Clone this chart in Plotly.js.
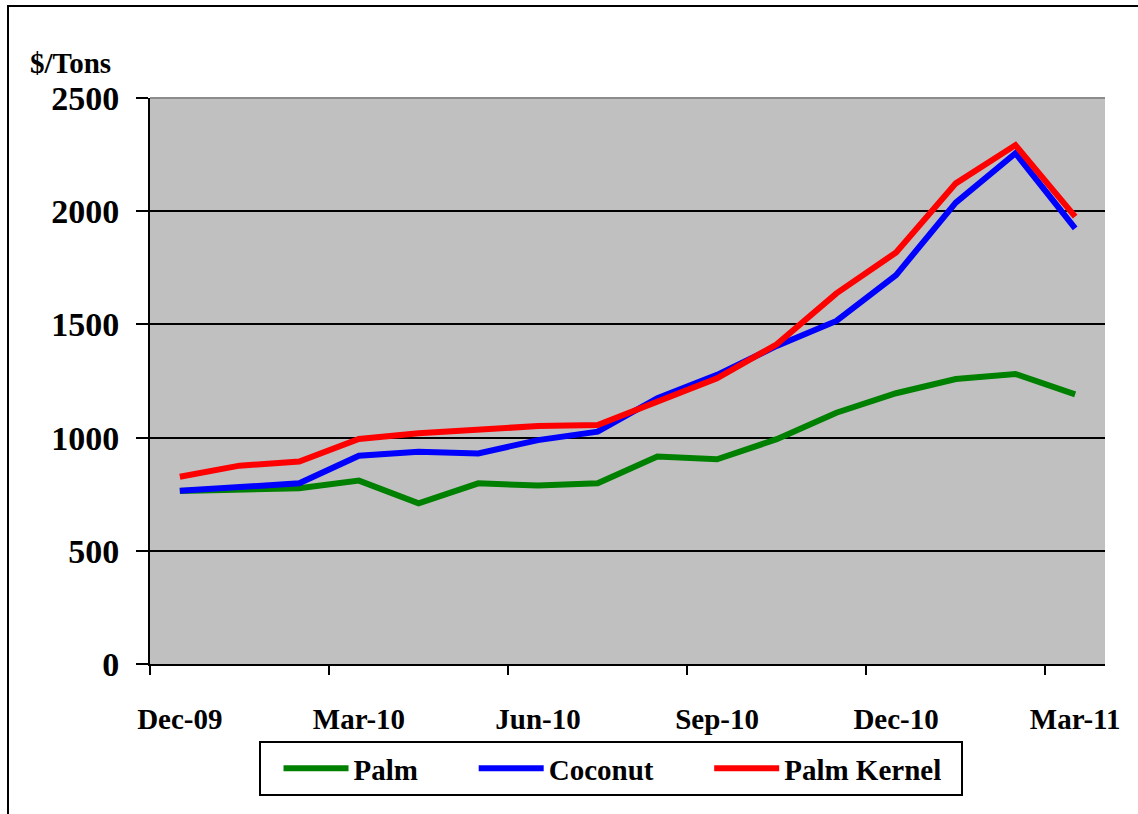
<!DOCTYPE html>
<html>
<head>
<meta charset="utf-8">
<script src="https://cdn.plot.ly/plotly-3.0.1.min.js"></script>
<style>
  html, body { margin: 0; padding: 0; background: #fff; }
  #wrap { position: relative; width: 1138px; height: 814px; }
  #chart { position: absolute; left: 0; top: 0; width: 1138px; height: 814px; }
  #frame { position: absolute; left: 7px; top: 5px; width: 1140px; height: 820px;
           border-top: 2px solid #000; border-left: 2px solid #000; pointer-events: none; }
</style>
</head>
<body>
<div id="wrap">
  <div id="chart"></div>
  <div id="frame"></div>
</div>
<script>
// ---- data ----
const months = ["Dec-09","Jan-10","Feb-10","Mar-10","Apr-10","May-10","Jun-10","Jul-10",
                "Aug-10","Sep-10","Oct-10","Nov-10","Dec-10","Jan-11","Feb-11","Mar-11"];
const palm = [764, 771, 776, 810, 710, 798, 788, 798, 916, 904, 993, 1110, 1196, 1259, 1281, 1191];
const coconut = [765, 783, 798, 920, 938, 930, 989, 1026, 1174, 1277, 1405, 1515, 1718, 2038, 2256, 1924];
const palmKernel = [827, 876, 894, 994, 1019, 1034, 1051, 1056, 1159, 1262, 1412, 1637, 1818, 2123, 2292, 1976];
const tickMonths = ["Dec-09","Mar-10","Jun-10","Sep-10","Dec-10","Mar-11"];
const yTicks = [0, 500, 1000, 1500, 2000, 2500];
const seriesNames = ["Palm", "Coconut", "Palm Kernel"];

const NB = "\u00a0".repeat(7);
const font = "Liberation Serif, Times New Roman, serif";

const tickIdx = tickMonths.map(m => months.indexOf(m));
const boundaryTicks = tickIdx.map(i => i - 0.5);

const traces = [
  {x: months, y: palm, name: seriesNames[0] + NB, type: "scatter", mode: "lines",
   line: {color: "#008000", width: 6}},
  {x: months, y: coconut, name: seriesNames[1] + NB, type: "scatter", mode: "lines",
   line: {color: "#0000FF", width: 6}},
  {x: months, y: palmKernel, name: seriesNames[2] + "\u00a0\u00a0", type: "scatter", mode: "lines",
   line: {color: "#FF0000", width: 6}},
  // helper (invisible) so the boundary tick-mark axis is drawn
  {x: boundaryTicks, y: boundaryTicks.map(() => null), xaxis: "x2", yaxis: "y",
   type: "scatter", mode: "lines", showlegend: false, hoverinfo: "skip"}
];

const layout = {
  width: 1138, height: 814,
  margin: {l: 150, r: 33, t: 98, b: 150},
  paper_bgcolor: "rgba(0,0,0,0)",
  plot_bgcolor: "#C0C0C0",
  font: {family: font, color: "#000", size: 29, weight: 700},
  showlegend: true,
  xaxis: {
    type: "category",
    range: [-0.5, months.length - 0.5],
    tickmode: "array", tickvals: tickMonths, ticktext: tickMonths,
    ticks: "", showgrid: false, zeroline: false,
    showline: true, linecolor: "#000", linewidth: 2,
    tickfont: {family: font, size: 29, weight: 700, color: "#000"},
    ticklabelstandoff: 28,
    fixedrange: true
  },
  xaxis2: {
    overlaying: "x", anchor: "y", side: "bottom", type: "linear",
    range: [-0.5, months.length - 0.5],
    tickmode: "array", tickvals: boundaryTicks,
    ticks: "outside", ticklen: 10, tickwidth: 2, tickcolor: "#000",
    showticklabels: false, showgrid: false, zeroline: false, showline: false,
    fixedrange: true
  },
  yaxis: {
    range: [0, 2500],
    tickmode: "array", tickvals: yTicks,
    ticks: "outside", ticklen: 12, tickwidth: 2, tickcolor: "#000",
    showgrid: true, gridcolor: "#000", gridwidth: 2,
    zeroline: false, showline: true, linecolor: "#000", linewidth: 2,
    tickfont: {family: font, size: 34, weight: 700, color: "#000"},
    ticklabelstandoff: 10,
    fixedrange: true
  },
  legend: {
    orientation: "h", x: 0.483, xanchor: "center", y: -0.136, yanchor: "top",
    bordercolor: "#000", borderwidth: 2, bgcolor: "#fff",
    itemwidth: 65,
    title: {text: "\u00a0", side: "left", font: {family: font, size: 29}},
    font: {family: font, size: 29, weight: 700, color: "#000"}
  },
  annotations: [{
    text: "$/Tons", xref: "paper", yref: "paper", x: -0.128, y: 1.03,
    xanchor: "left", yanchor: "bottom", showarrow: false,
    font: {family: font, size: 29, weight: 700, color: "#000"}
  }],
  shapes: [{
    type: "line", xref: "paper", yref: "paper", x0: 0, x1: 1, y0: 1, y1: 1,
    line: {color: "#8c8c8c", width: 2}
  }]
};

Plotly.newPlot("chart", traces, layout, {staticPlot: true, displayModeBar: false});
</script>
</body>
</html>
